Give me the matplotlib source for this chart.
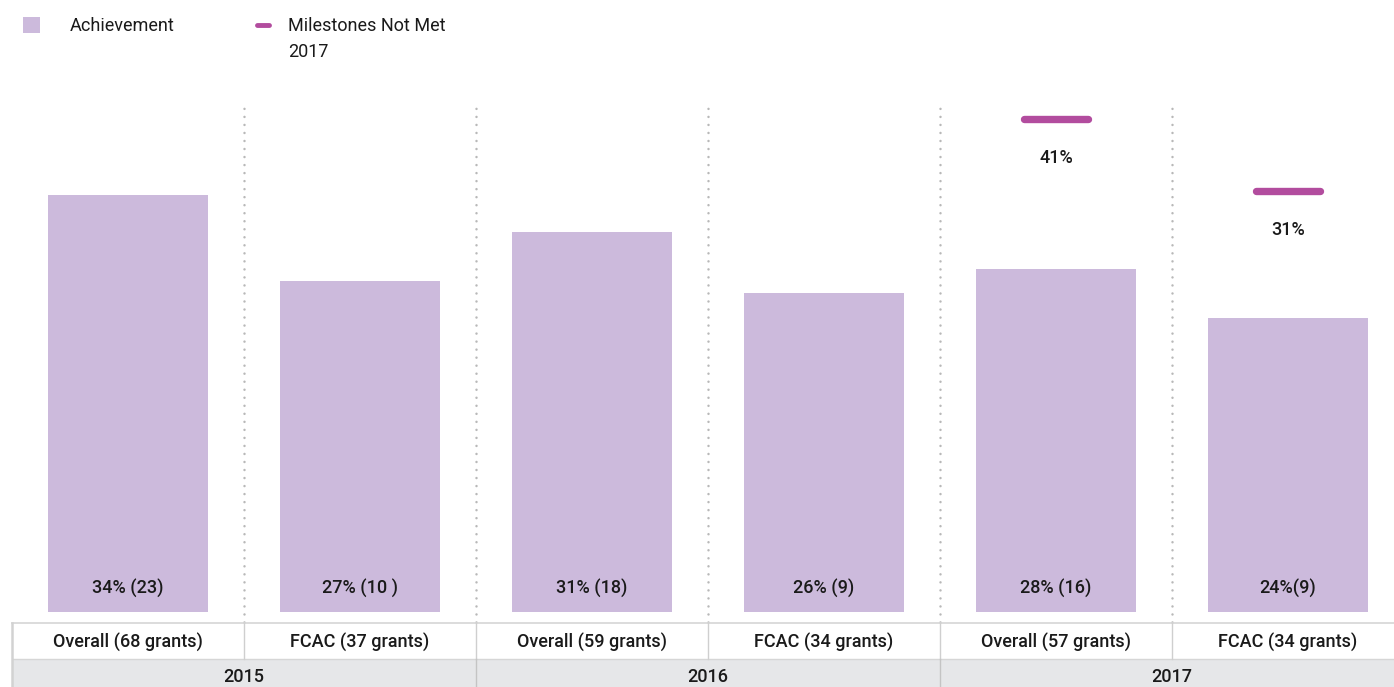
import numpy as np
import matplotlib
matplotlib.use('Agg')
import matplotlib.pyplot as plt
from matplotlib.transforms import blended_transform_factory
from matplotlib.patches import Rectangle
from matplotlib.lines import Line2D

# --- Data
groups = ['Overall (68 grants)', 'FCAC (37 grants)',
          'Overall (59 grants)', 'FCAC (34 grants)',
          'Overall (57 grants)', 'FCAC (34 grants)']
years = ['2015', '2016', '2017']
achievement = [34, 27, 31, 26, 28, 24]
achievement_labels = ['34% (23)', '27% (10 )', '31% (18)', '26% (9)', '28% (16)', '24%(9)']
milestone_idx = [4, 5]
milestones_not_met = [41, 31]

bar_color = '#CCBADC'
ms_color = '#B24C9E'
grid_color = '#B8B8B8'
band_color = '#E6E7E9'
txt_color = '#1a1a1a'

plt.rcParams['font.family'] = ['Roboto', 'DejaVu Sans']
FS = 13
FW = 'medium'

W, H = 1394, 687
fig = plt.figure(figsize=(W / 100, H / 100), dpi=100)

def fx(px):
  return px / W

def fy(py):
  return 1 - py / H

# main plot area: x from 12px (cell edge) to 1404px, y from 104px to 612px
ax = fig.add_axes([fx(12), fy(612), 1392 / W, 508 / H])
x = np.arange(len(groups))
ax.bar(x, achievement, width=0.69, color=bar_color, zorder=2)
ax.set_xlim(-0.5, len(groups) - 0.5)
ax.set_ylim(0, 508 / 12.26)
ax.axis('off')

for xi, lab in zip(x, achievement_labels):
  ax.annotate(lab, xy=(xi, 0), xytext=(0, 23), textcoords='offset pixels',
              ha='center', va='center', fontsize=FS, fontweight=FW, color=txt_color, zorder=3)

# dotted separators between groups
trans = blended_transform_factory(ax.transData, ax.transAxes)
for b in x[:-1] + 0.5:
  ax.plot([b, b], [-10 / 508, 1.0], transform=trans, color=grid_color,
          lw=1.8, linestyle=(0, (0.01, 3.2)), dash_capstyle='round', clip_on=False, zorder=1)

# milestones on their own scale
ax2 = ax.twinx()
ax2.set_ylim(-27.5, 43.05)
ax2.axis('off')
ms_x = x[milestone_idx]
ax2.hlines(milestones_not_met, ms_x - 0.138, ms_x + 0.138, color=ms_color,
           lw=5.3, capstyle='round')
for xi, v in zip(ms_x, milestones_not_met):
  ax2.annotate(f'{v}%', xy=(xi, v), xytext=(0, -39), textcoords='offset pixels',
               ha='center', va='center', fontsize=FS, fontweight=FW, color=txt_color)

# --- Category table under the bars
tab = fig.add_axes([fx(12), 0, 1392 / W, 64 / H], sharex=ax)
tab.set_ylim(0, 64)
tab.axis('off')
tab.add_patch(Rectangle((-0.5, 0), len(groups), 28, color=band_color, lw=0))
tab.plot([-0.5, len(groups) - 0.5], [64, 64], color='#D6D6D6', lw=1.2, clip_on=False)
tab.plot([-0.5, len(groups) - 0.5], [28, 28], color='#D6D6D6', lw=1.0)
tab.plot([-0.5, -0.5], [0, 64], color='#D2D2D2', lw=1.8, clip_on=False)
for b in x[:-1] + 0.5:
  tab.plot([b, b], [28, 64], color='#CFCFCF', lw=1.0)
for b in [1.5, 3.5]:
  tab.plot([b, b], [0, 28], color='#C4C4C4', lw=1.0)
for xi, g in zip(x, groups):
  tab.text(xi, 44, g, ha='center', va='center', fontsize=FS, fontweight=FW, color=txt_color)
for i, yr in enumerate(years):
  tab.text(2 * i + 0.5, 10, yr, ha='center', va='center', fontsize=FS, fontweight=FW, color=txt_color)

# --- Legend
fig.patches.append(Rectangle((fx(23), fy(33)), 17 / W, 16 / H, transform=fig.transFigure,
                             color=bar_color, lw=0))
fig.text(fx(70), fy(26), 'Achievement', ha='left', va='center', fontsize=FS, color=txt_color)
fig.lines.append(Line2D([fx(257), fx(269)], [fy(25), fy(25)], transform=fig.transFigure,
                        color=ms_color, lw=3.5, solid_capstyle='round'))
fig.text(fx(288), fy(26), 'Milestones Not Met', ha='left', va='center', fontsize=FS, color=txt_color)
fig.text(fx(288), fy(52), '2017', ha='left', va='center', fontsize=FS, color=txt_color)

fig.savefig('out.png', dpi=100)
